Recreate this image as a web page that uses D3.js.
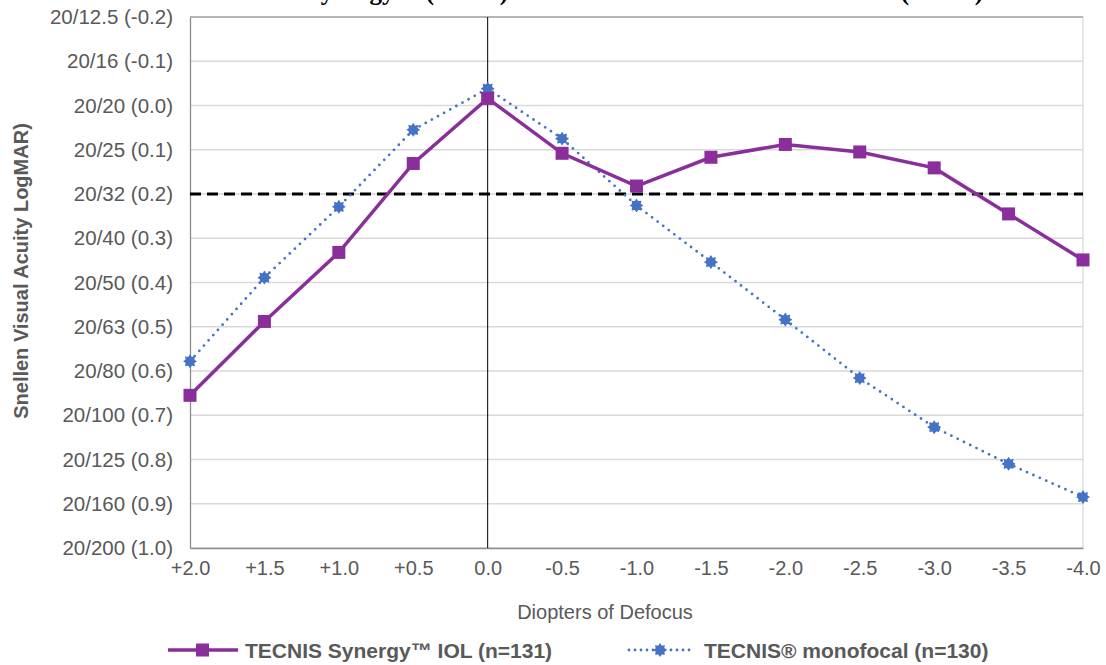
<!DOCTYPE html>
<html>
<head>
<meta charset="utf-8">
<script src="https://cdn.jsdelivr.net/npm/d3@7"></script>
<style>
body { margin: 0; background: #fff; }
text { font-family: "Liberation Sans", Arial, sans-serif; }
</style>
</head>
<body>
<svg width="1106" height="665"></svg>
<script>
// defocus values (diopters) and mean logMAR per lens
var defocus = [2.0, 1.5, 1.0, 0.5, 0.0, -0.5, -1.0, -1.5, -2.0, -2.5, -3.0, -3.5, -4.0];
var defocusLabels = ["+2.0", "+1.5", "+1.0", "+0.5", "0.0", "-0.5", "-1.0", "-1.5", "-2.0", "-2.5", "-3.0", "-3.5", "-4.0"];
var synergy = [0.655, 0.488, 0.332, 0.131, -0.016, 0.108, 0.182, 0.117, 0.088, 0.105, 0.141, 0.245, 0.349];
var monofocal = [0.578, 0.389, 0.229, 0.055, -0.038, 0.075, 0.226, 0.354, 0.484, 0.616, 0.727, 0.810, 0.885];
var logmarTicks = [-0.2, -0.1, 0.0, 0.1, 0.2, 0.3, 0.4, 0.5, 0.6, 0.7, 0.8, 0.9, 1.0];
var snellenLabels = ["20/12.5 (-0.2)", "20/16 (-0.1)", "20/20 (0.0)", "20/25 (0.1)", "20/32 (0.2)", "20/40 (0.3)",
    "20/50 (0.4)", "20/63 (0.5)", "20/80 (0.6)", "20/100 (0.7)", "20/125 (0.8)", "20/160 (0.9)", "20/200 (1.0)"];
var threshold = 0.2;

var svg = d3.select("svg");
var pLeft = 190, pRight = 1083, pTop = 17, pBottom = 548;

var x = d3.scaleLinear().domain([2.0, -4.0]).range([pLeft, pRight]);
var y = d3.scaleLinear().domain([-0.2, 1.0]).range([pTop, pBottom]);

var purple = "#8a2e9b", blue = "#4472c4", grey = "#595959";

// title, mostly cut off above the frame
svg.append("text").attr("x", 508).attr("y", 0).attr("text-anchor", "end")
    .style("font-family", "'Liberation Serif', serif").style("font-weight", "bold").style("font-size", "25px")
    .attr("fill", "#000").text("Defocus Curve: TECNIS Synergy™ (n=131)");
svg.append("text").attr("x", 983).attr("y", 0).attr("text-anchor", "end")
    .style("font-family", "'Liberation Serif', serif").style("font-weight", "bold").style("font-size", "25px")
    .attr("fill", "#000").text("vs. TECNIS® Monofocal ZCB00 (n=130)");

// gridlines
svg.append("g").selectAll("line").data(logmarTicks).enter().append("line")
    .attr("x1", pLeft).attr("x2", pRight)
    .attr("y1", function(d) { return y(d); }).attr("y2", function(d) { return y(d); })
    .attr("stroke", "#d9d9d9").attr("stroke-width", 1.3);

svg.append("line").attr("x1", pRight).attr("x2", pRight).attr("y1", pTop).attr("y2", pBottom)
    .attr("stroke", "#d9d9d9").attr("stroke-width", 1.3);
svg.append("line").attr("x1", pLeft).attr("x2", pRight).attr("y1", pTop).attr("y2", pTop)
    .attr("stroke", "#a6a6a6").attr("stroke-width", 1.5);

// axes
var yAxis = d3.axisLeft(y).tickValues(logmarTicks).tickSize(0).tickPadding(17)
    .tickFormat(function(d, i) { return snellenLabels[i]; });
var gy = svg.append("g").attr("transform", "translate(" + pLeft + ",0)").call(yAxis);
gy.select(".domain").attr("stroke", "#8c8c8c").attr("stroke-width", 1.3);
gy.selectAll("text").style("font-size", "20.5px").attr("fill", grey);

var xAxis = d3.axisBottom(x).tickValues(defocus).tickSize(0).tickPadding(13)
    .tickFormat(function(d, i) { return defocusLabels[i]; });
var gx = svg.append("g").attr("transform", "translate(0," + pBottom + ")").call(xAxis);
gx.select(".domain").attr("stroke", "#8c8c8c").attr("stroke-width", 1.3);
gx.selectAll("text").style("font-size", "20px").attr("fill", grey);

// zero defocus line
svg.append("line").attr("x1", x(0)).attr("x2", x(0)).attr("y1", pTop).attr("y2", pBottom)
    .attr("stroke", "#000").attr("stroke-width", 1);

// 20/32 threshold
svg.append("line").attr("x1", pLeft).attr("x2", pRight)
    .attr("y1", y(threshold)).attr("y2", y(threshold))
    .attr("stroke", "#000").attr("stroke-width", 3).attr("stroke-dasharray", "11,6");

var line = function(vals) {
    return d3.line().x(function(d, i) { return x(defocus[i]); }).y(function(d) { return y(d); })(vals);
};

// monofocal (dotted, star markers)
svg.append("path").attr("d", line(monofocal)).attr("fill", "none")
    .attr("stroke", blue).attr("stroke-width", 2.8).attr("stroke-linecap", "round")
    .attr("stroke-dasharray", "0,7");

// little rounded 8-point star
var starPts = d3.range(16).map(function(k) {
    var a = k * Math.PI / 8, r = k % 2 ? 4.8 : 6.8;
    return [r * Math.sin(a), -r * Math.cos(a)];
});
var starPath = d3.line().curve(d3.curveCardinalClosed.tension(0.3))(starPts);
function starMarker(g) {
    g.append("path").attr("d", starPath).attr("fill", blue);
}
svg.append("g").selectAll("g").data(monofocal).enter().append("g")
    .attr("transform", function(d, i) { return "translate(" + x(defocus[i]) + "," + y(d) + ")"; })
    .each(function() { starMarker(d3.select(this)); });

// synergy (solid, squares)
svg.append("path").attr("d", line(synergy)).attr("fill", "none")
    .attr("stroke", purple).attr("stroke-width", 3.5);
svg.append("g").selectAll("rect").data(synergy).enter().append("rect")
    .attr("x", function(d, i) { return x(defocus[i]) - 6.5; })
    .attr("y", function(d) { return y(d) - 6.5; })
    .attr("width", 13).attr("height", 13).attr("fill", purple);

// axis titles
svg.append("text").attr("x", 605).attr("y", 619).attr("text-anchor", "middle")
    .style("font-size", "20px").attr("fill", grey).text("Diopters of Defocus");
svg.append("text").attr("transform", "translate(28,271) rotate(-90)").attr("text-anchor", "middle")
    .style("font-size", "20px").style("font-weight", "bold").attr("fill", grey)
    .text("Snellen Visual Acuity LogMAR)");

// legend
var ly = 650;
svg.append("line").attr("x1", 168).attr("x2", 238).attr("y1", ly).attr("y2", ly)
    .attr("stroke", purple).attr("stroke-width", 3.5);
svg.append("rect").attr("x", 196).attr("y", ly - 6.5).attr("width", 13).attr("height", 13).attr("fill", purple);
svg.append("text").attr("x", 245).attr("y", ly + 7.5).style("font-size", "21px").style("font-weight", "bold")
    .attr("fill", grey).text("TECNIS Synergy™ IOL (n=131)");

svg.append("line").attr("x1", 629).attr("x2", 692).attr("y1", ly).attr("y2", ly)
    .attr("stroke", blue).attr("stroke-width", 2.8).attr("stroke-linecap", "round").attr("stroke-dasharray", "0,6");
var lg = svg.append("g").attr("transform", "translate(660," + ly + ")");
starMarker(lg);
svg.append("text").attr("x", 704).attr("y", ly + 7.5).style("font-size", "21px").style("font-weight", "bold")
    .attr("fill", grey).text("TECNIS® monofocal (n=130)");
</script>
</body>
</html>
